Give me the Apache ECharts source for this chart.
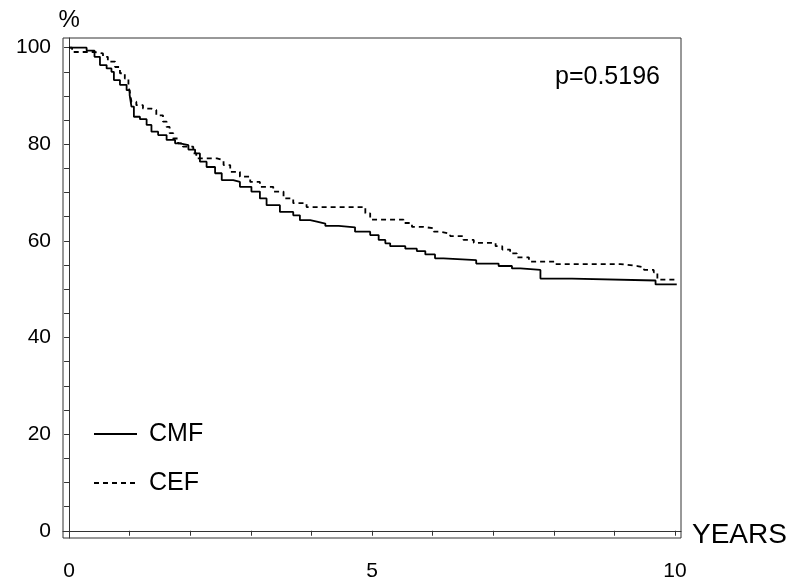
<!DOCTYPE html>
<html>
<head>
<meta charset="utf-8">
<script src="https://cdn.jsdelivr.net/npm/echarts@6/dist/echarts.min.js"></script>
<style>
  html, body { margin: 0; padding: 0; background: #fff; }
  #chart { width: 797px; height: 582px; }
</style>
</head>
<body>
<div id="chart"></div>
<script>
// Kaplan-Meier steps: time (years) / survival (%)
const cmfYears = [0, 0.29, 0.42, 0.51, 0.62, 0.70, 0.74, 0.84, 0.95, 1.00, 1.03, 1.07, 1.17, 1.28, 1.36, 1.47, 1.61, 1.75, 1.83, 1.97, 2.08, 2.16, 2.27, 2.41, 2.52, 2.71, 2.82, 3.01, 3.15, 3.26, 3.48, 3.70, 3.81, 3.98, 4.09, 4.23, 4.45, 4.72, 4.97, 5.11, 5.22, 5.30, 5.55, 5.74, 5.88, 6.04, 6.18, 6.72, 7.09, 7.31, 7.45, 7.78, 8.30, 9.68, 10.03]
const cmfPct = [100, 99.4, 98.1, 96.4, 95.7, 95.0, 93.3, 92.3, 91.2, 90.2, 87.8, 85.7, 85.2, 84.0, 82.6, 81.9, 80.9, 80.2, 79.8, 78.9, 78.1, 76.4, 75.3, 74.0, 72.6, 72.2, 71.2, 70.2, 68.8, 67.4, 66.0, 65.3, 64.3, 64.0, 63.6, 63.1, 62.8, 61.9, 61.2, 60.2, 59.5, 58.9, 58.4, 57.9, 57.2, 56.4, 56.0, 55.3, 54.8, 54.3, 54.0, 52.2, 51.8, 51.0, 51.0]

const cefYears = [0, 0.05, 0.42, 0.56, 0.64, 0.76, 0.84, 0.92, 0.98, 1.00, 1.03, 1.11, 1.22, 1.36, 1.44, 1.55, 1.61, 1.66, 1.72, 1.80, 1.88, 2.05, 2.10, 2.44, 2.55, 2.66, 2.82, 2.99, 3.15, 3.37, 3.54, 3.70, 3.92, 4.89, 4.97, 5.52, 5.66, 5.85, 6.02, 6.13, 6.29, 6.51, 6.68, 7.04, 7.15, 7.28, 7.39, 7.59, 8.03, 9.10, 9.38, 9.49, 9.65, 9.71, 10.03]
const cefPct = [100, 99.1, 98.8, 98.1, 97.1, 96.0, 94.7, 93.6, 92.3, 90.9, 88.8, 88.1, 87.4, 87.1, 86.0, 84.7, 83.6, 82.3, 81.2, 80.2, 79.5, 78.1, 77.1, 76.7, 75.7, 74.3, 73.3, 72.2, 71.2, 70.2, 68.8, 67.8, 67.0, 65.7, 64.4, 63.7, 62.9, 62.6, 61.9, 61.5, 61.0, 60.2, 59.6, 58.9, 58.2, 57.4, 56.6, 55.7, 55.2, 54.8, 54.5, 54.0, 53.5, 52.0, 52.0]

const xTicks = [0, 1, 2, 3, 4, 5, 6, 7, 8, 9, 10]
const xLabels = [0, 5, 10]
const yTicks = [0, 5, 10, 15, 20, 25, 30, 35, 40, 45, 50, 55, 60, 65, 70, 75, 80, 85, 90, 95, 100]
const yLabels = [0, 20, 40, 60, 80, 100]
const pText = 'p=0.5196'

const FONT = '"Liberation Sans", Arial, sans-serif'
const zip = (xs, ys) => xs.map((x, i) => [x, ys[i]])

const chart = echarts.init(document.getElementById('chart'))
chart.setOption({
  animation: false,
  backgroundColor: '#fff',
  textStyle: { fontFamily: FONT, color: '#000' },
  grid: {
    left: 63, right: 116, top: 38, bottom: 44,
    show: true, borderColor: '#333', borderWidth: 1
  },
  xAxis: {
    type: 'value', min: -0.1, max: 10.1,
    axisLine: { show: true, lineStyle: { color: '#333', width: 1 } },
    axisTick: { show: true, length: 5, customValues: xTicks, lineStyle: { color: '#333' } },
    axisLabel: { customValues: xLabels, fontSize: 21, color: '#000', margin: 23, fontFamily: FONT },
    splitLine: { show: false }
  },
  yAxis: {
    type: 'value', min: -1.5, max: 102,
    name: '%', nameLocation: 'end', nameGap: 6,
    nameTextStyle: { fontSize: 24, color: '#000', fontFamily: FONT },
    axisLine: { show: true, lineStyle: { color: '#333', width: 1 } },
    axisTick: { show: true, length: 5, customValues: yTicks, lineStyle: { color: '#333' } },
    axisLabel: { customValues: yLabels, fontSize: 21, color: '#000', margin: 12, fontFamily: FONT },
    splitLine: { show: false }
  },
  legend: {
    orient: 'vertical', left: 88, top: 415,
    itemWidth: 43, itemHeight: 14, itemGap: 21,
    itemStyle: { opacity: 0 },
    textStyle: { fontSize: 25, color: '#000', fontFamily: FONT, padding: [0, 0, 0, 7], lineHeight: 28 },
    data: ['CMF', 'CEF']
  },
  graphic: [
    {
      type: 'text', left: 555, top: 65,
      style: { text: pText, fontSize: 25, fill: '#000', fontFamily: FONT }
    },
    {
      type: 'text', left: 692, top: 521,
      style: { text: 'YEARS', fontSize: 28, fill: '#000', fontFamily: FONT }
    }
  ],
  series: [
    {
      name: 'CMF', type: 'line', step: 'end', symbol: 'none',
      data: zip(cmfYears, cmfPct),
      lineStyle: { color: '#000', width: 1.8 },
      itemStyle: { color: '#000' }
    },
    {
      name: 'CEF', type: 'line', step: 'end', symbol: 'none',
      data: zip(cefYears, cefPct),
      lineStyle: { color: '#000', width: 1.8, type: [5, 4] },
      itemStyle: { color: '#000' }
    }
  ]
})
</script>
</body>
</html>
